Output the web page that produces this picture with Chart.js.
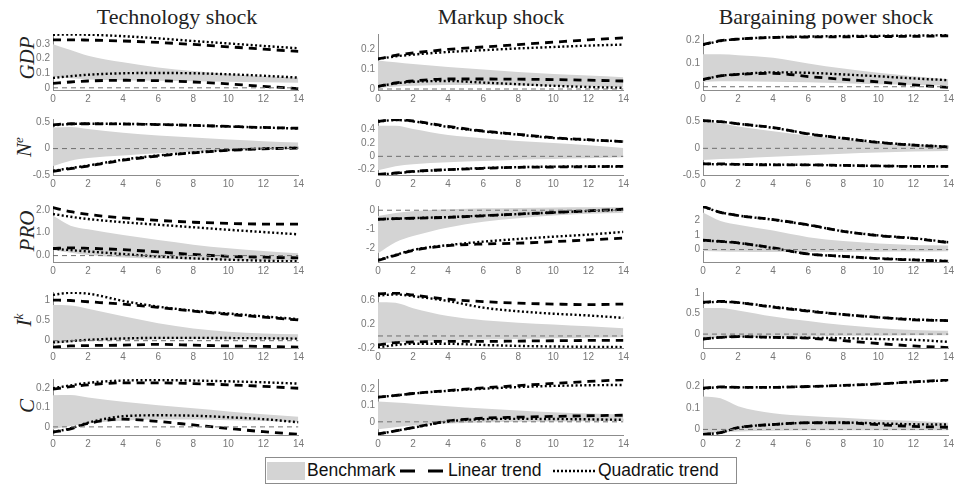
<!DOCTYPE html>
<html>
<head>
<meta charset="utf-8">
<script src="https://cdn.jsdelivr.net/npm/chart.js@4.4.1/dist/chart.umd.min.js"></script>
<style>
  html, body { margin: 0; padding: 0; background: #fff; width: 954px; height: 485px; overflow: hidden; }
  body { position: relative; }
  canvas { position: absolute; }
  .title { position: absolute; top: 4px; line-height: 25px; font-family: 'Liberation Serif', 'Times New Roman', serif; font-size: 22px; color: #222; white-space: nowrap; transform: translateX(-50%); }
  .ylab { position: absolute; font-family: 'Liberation Serif', 'Times New Roman', serif; font-style: italic; font-size: 21px; line-height: 21px; color: #222; white-space: nowrap; transform: translate(-50%, -50%) rotate(-90deg); }
  .ylab sup { font-size: 13px; line-height: 0; }
  #legend { position: absolute; left: 265px; top: 457px; width: 470px; height: 25px; border: 1px solid #8c8c8c; background: #fff; font-family: 'Liberation Sans', Arial, sans-serif; font-size: 17.5px; color: #111; }
  #legend span, #legend svg, #legend div { position: absolute; }
  #legend span { top: 2px; line-height: 21px; white-space: nowrap; }
</style>
</head>
<body>

<div class="title" style="left:177px">Technology shock</div>
<div class="title" style="left:501px">Markup shock</div>
<div class="title" style="left:826px">Bargaining power shock</div>

<div class="ylab" style="left:27px; top:58px">GDP</div>
<div class="ylab" style="left:24px; top:147px">N<sup>e</sup></div>
<div class="ylab" style="left:27px; top:231px">PRO</div>
<div class="ylab" style="left:24px; top:320px">I<sup>k</sup></div>
<div class="ylab" style="left:27px; top:406px">C</div>

<div id="legend">
  <div style="left:1px; top:4px; width:38px; height:18px; background:#d4d4d4"></div>
  <span style="left:41px">Benchmark</span>
  <svg style="left:132px; top:7px" width="48" height="12"><line x1="2" y1="6" x2="45" y2="6" stroke="#000" stroke-width="2.8" stroke-dasharray="15 13"/></svg>
  <span style="left:182px">Linear trend</span>
  <svg style="left:286px; top:7px" width="46" height="12"><line x1="1" y1="6" x2="45" y2="6" stroke="#000" stroke-width="2.3" stroke-dasharray="2 2"/></svg>
  <span style="left:332px">Quadratic trend</span>
</div>

<script>
const steps = [0, 1, 2, 4, 6, 8, 10, 12, 14];

// GDP, technology shock
const gdpTechBandHi = [0.30, 0.26, 0.22, 0.175, 0.14, 0.115, 0.095, 0.08, 0.07];
const gdpTechBandLo = [0.075, 0.065, 0.058, 0.052, 0.048, 0.045, 0.042, 0.038, 0.035];
const gdpTechLinHi = [0.33, 0.33, 0.328, 0.322, 0.312, 0.298, 0.282, 0.266, 0.25];
const gdpTechLinLo = [0.03, 0.04, 0.047, 0.052, 0.049, 0.04, 0.027, 0.01, -0.005];
const gdpTechQuadHi = [0.365, 0.366, 0.365, 0.355, 0.34, 0.322, 0.305, 0.288, 0.272];
const gdpTechQuadLo = [0.068, 0.08, 0.09, 0.1, 0.102, 0.1, 0.093, 0.083, 0.07];
const gdpTechRange = [-0.015, 0.37];
const gdpTechTicks = ['0', '0.1', '0.2', '0.3'];

// N^e, technology shock
const neTechBandHi = [0.40, 0.41, 0.37, 0.30, 0.25, 0.21, 0.17, 0.14, 0.115];
const neTechBandLo = [-0.33, -0.23, -0.18, -0.13, -0.09, -0.06, -0.04, -0.02, -0.01];
const neTechLinHi = [0.45, 0.47, 0.47, 0.465, 0.455, 0.44, 0.42, 0.40, 0.385];
const neTechLinLo = [-0.43, -0.38, -0.33, -0.22, -0.14, -0.08, -0.035, -0.005, 0.01];
const neTechQuadHi = [0.44, 0.465, 0.47, 0.468, 0.458, 0.44, 0.418, 0.398, 0.38];
const neTechQuadLo = [-0.42, -0.37, -0.32, -0.21, -0.13, -0.075, -0.03, 0.0, 0.015];
const neTechRange = [-0.5, 0.56];
const neTechTicks = ['-0.5', '0', '0.5'];

// PRO, technology shock
const proTechBandHi = [1.74, 1.31, 1.15, 0.9, 0.68, 0.48, 0.32, 0.2, 0.1];
const proTechBandLo = [0.25, 0.12, 0.03, -0.08, -0.14, -0.18, -0.2, -0.21, -0.21];
const proTechLinHi = [2.1, 1.92, 1.8, 1.65, 1.54, 1.46, 1.41, 1.38, 1.38];
const proTechLinLo = [0.31, 0.34, 0.32, 0.26, 0.16, 0.05, -0.03, -0.07, -0.1];
const proTechQuadHi = [1.82, 1.7, 1.6, 1.46, 1.35, 1.24, 1.13, 1.03, 0.93];
const proTechQuadLo = [0.3, 0.24, 0.18, 0.07, -0.04, -0.12, -0.18, -0.22, -0.25];
const proTechRange = [-0.28, 2.17];
const proTechTicks = ['0.0', '1.0', '2.0'];

// I^k, technology shock
const ikTechBandHi = [0.88, 0.87, 0.79, 0.6, 0.43, 0.3, 0.22, 0.18, 0.16];
const ikTechBandLo = [-0.08, -0.04, -0.01, 0.02, 0.03, 0.035, 0.035, 0.035, 0.03];
const ikTechLinHi = [1.0, 0.99, 0.96, 0.9, 0.82, 0.73, 0.65, 0.58, 0.51];
const ikTechLinLo = [-0.16, -0.13, -0.12, -0.11, -0.09, -0.11, -0.13, -0.14, -0.16];
const ikTechQuadHi = [1.13, 1.18, 1.16, 0.98, 0.84, 0.74, 0.67, 0.6, 0.53];
const ikTechQuadLo = [-0.04, -0.01, 0.02, 0.055, 0.07, 0.07, 0.065, 0.06, 0.05];
const ikTechRange = [-0.18, 1.2];
const ikTechTicks = ['0', '0.5', '1'];

// C, technology shock
const cTechBandHi = [0.164, 0.165, 0.152, 0.13, 0.112, 0.096, 0.08, 0.065, 0.052];
const cTechBandLo = [-0.012, 0.005, 0.018, 0.032, 0.038, 0.038, 0.035, 0.03, 0.024];
const cTechLinHi = [0.195, 0.208, 0.218, 0.228, 0.228, 0.224, 0.218, 0.21, 0.2];
const cTechLinLo = [-0.028, -0.01, 0.018, 0.04, 0.028, 0.01, -0.008, -0.025, -0.038];
const cTechQuadHi = [0.2, 0.215, 0.228, 0.24, 0.242, 0.24, 0.236, 0.231, 0.224];
const cTechQuadLo = [-0.026, -0.008, 0.022, 0.055, 0.06, 0.058, 0.05, 0.04, 0.024];
const cTechRange = [-0.042, 0.248];
const cTechTicks = ['0', '0.1', '0.2'];

// GDP, markup shock
const gdpMarkupBandHi = [0.143, 0.134, 0.125, 0.11, 0.097, 0.085, 0.075, 0.067, 0.059];
const gdpMarkupBandLo = [0.005, 0.012, 0.016, 0.02, 0.02, 0.018, 0.015, 0.012, 0.009];
const gdpMarkupLinHi = [0.15, 0.168, 0.18, 0.198, 0.21, 0.222, 0.234, 0.246, 0.256];
const gdpMarkupLinLo = [0.013, 0.03, 0.04, 0.05, 0.05, 0.049, 0.047, 0.044, 0.04];
const gdpMarkupQuadHi = [0.15, 0.163, 0.172, 0.185, 0.194, 0.203, 0.21, 0.217, 0.222];
const gdpMarkupQuadLo = [0.013, 0.028, 0.036, 0.04, 0.032, 0.024, 0.016, 0.01, 0.006];
const gdpMarkupRange = [-0.005, 0.275];
const gdpMarkupTicks = ['0', '0.1', '0.2'];

// N^e, markup shock
const neMarkupBandHi = [0.46, 0.46, 0.41, 0.32, 0.27, 0.23, 0.2, 0.165, 0.125];
const neMarkupBandLo = [-0.21, -0.15, -0.12, -0.09, -0.07, -0.05, -0.04, -0.03, -0.015];
const neMarkupLinHi = [0.525, 0.55, 0.53, 0.45, 0.38, 0.33, 0.28, 0.25, 0.22];
const neMarkupLinLo = [-0.27, -0.25, -0.225, -0.2, -0.18, -0.165, -0.16, -0.155, -0.15];
const neMarkupQuadHi = [0.52, 0.545, 0.525, 0.44, 0.375, 0.325, 0.275, 0.245, 0.225];
const neMarkupQuadLo = [-0.275, -0.255, -0.23, -0.2, -0.175, -0.162, -0.155, -0.15, -0.155];
const neMarkupRange = [-0.28, 0.56];
const neMarkupTicks = ['-0.2', '0', '0.2', '0.4'];

// PRO, markup shock
const proMarkupBandHi = [-0.3, -0.15, -0.05, 0.05, 0.1, 0.12, 0.14, 0.15, 0.15];
const proMarkupBandLo = [-2.25, -1.67, -1.35, -0.9, -0.6, -0.42, -0.28, -0.18, -0.15];
const proMarkupLinHi = [-0.47, -0.44, -0.42, -0.37, -0.29, -0.2, -0.12, -0.03, 0.05];
const proMarkupLinLo = [-2.62, -2.35, -2.1, -1.85, -1.76, -1.72, -1.64, -1.55, -1.45];
const proMarkupQuadHi = [-0.47, -0.44, -0.41, -0.36, -0.28, -0.2, -0.12, -0.04, 0.03];
const proMarkupQuadLo = [-2.6, -2.33, -2.07, -1.82, -1.64, -1.5, -1.38, -1.27, -1.13];
const proMarkupRange = [-2.7, 0.22];
const proMarkupTicks = ['-2', '-1', '0'];

// I^k, markup shock
const ikMarkupBandHi = [0.56, 0.55, 0.46, 0.33, 0.26, 0.22, 0.19, 0.16, 0.13];
const ikMarkupBandLo = [-0.13, -0.11, -0.09, -0.07, -0.06, -0.05, -0.04, -0.03, -0.02];
const ikMarkupLinHi = [0.7, 0.71, 0.68, 0.61, 0.57, 0.545, 0.53, 0.52, 0.53];
const ikMarkupLinLo = [-0.15, -0.11, -0.1, -0.09, -0.09, -0.085, -0.08, -0.075, -0.075];
const ikMarkupQuadHi = [0.67, 0.69, 0.66, 0.58, 0.47, 0.41, 0.37, 0.34, 0.3];
const ikMarkupQuadLo = [-0.19, -0.15, -0.13, -0.13, -0.15, -0.165, -0.175, -0.18, -0.185];
const ikMarkupRange = [-0.2, 0.73];
const ikMarkupTicks = ['-0.2', '0', '0.2', '0.4', '0.6'];

// C, markup shock
const cMarkupBandHi = [0.124, 0.117, 0.11, 0.095, 0.081, 0.069, 0.058, 0.05, 0.044];
const cMarkupBandLo = [-0.045, -0.033, -0.022, -0.01, -0.004, 0.0, 0.002, 0.004, 0.005];
const cMarkupLinHi = [0.15, 0.16, 0.172, 0.19, 0.206, 0.22, 0.233, 0.245, 0.255];
const cMarkupLinLo = [-0.074, -0.055, -0.035, 0.005, 0.022, 0.028, 0.033, 0.037, 0.04];
const cMarkupQuadHi = [0.15, 0.16, 0.172, 0.188, 0.201, 0.211, 0.218, 0.222, 0.224];
const cMarkupQuadLo = [-0.074, -0.055, -0.036, 0.002, 0.016, 0.018, 0.017, 0.015, 0.012];
const cMarkupRange = [-0.08, 0.26];
const cMarkupTicks = ['0', '0.1', '0.2'];

// GDP, bargaining power shock
const gdpBargBandHi = [0.14, 0.14, 0.136, 0.125, 0.1, 0.078, 0.06, 0.045, 0.032];
const gdpBargBandLo = [0.022, 0.024, 0.024, 0.022, 0.019, 0.015, 0.011, 0.008, 0.005];
const gdpBargLinHi = [0.182, 0.198, 0.205, 0.212, 0.214, 0.215, 0.216, 0.217, 0.219];
const gdpBargLinLo = [0.031, 0.047, 0.053, 0.058, 0.044, 0.032, 0.021, 0.008, -0.003];
const gdpBargQuadHi = [0.18, 0.197, 0.205, 0.213, 0.216, 0.218, 0.219, 0.22, 0.222];
const gdpBargQuadLo = [0.031, 0.047, 0.054, 0.062, 0.06, 0.053, 0.045, 0.036, 0.028];
const gdpBargRange = [-0.014, 0.227];
const gdpBargTicks = ['0', '0.1', '0.2'];

// N^e, bargaining power shock
const neBargBandHi = [0.5, 0.47, 0.41, 0.32, 0.235, 0.17, 0.1, 0.07, 0.055];
const neBargBandLo = [-0.22, -0.2, -0.19, -0.16, -0.13, -0.1, -0.08, -0.06, -0.05];
const neBargLinHi = [0.52, 0.5, 0.46, 0.39, 0.27, 0.19, 0.11, 0.06, 0.025];
const neBargLinLo = [-0.29, -0.29, -0.3, -0.31, -0.31, -0.32, -0.33, -0.34, -0.34];
const neBargQuadHi = [0.515, 0.5, 0.46, 0.385, 0.275, 0.19, 0.115, 0.065, 0.03];
const neBargQuadLo = [-0.29, -0.3, -0.3, -0.305, -0.31, -0.32, -0.33, -0.335, -0.34];
const neBargRange = [-0.5, 0.55];
const neBargTicks = ['-0.5', '0', '0.5'];

// PRO, bargaining power shock
const proBargBandHi = [2.53, 1.95, 1.7, 1.3, 0.85, 0.58, 0.42, 0.32, 0.28];
const proBargBandLo = [-0.1, -0.13, -0.15, -0.17, -0.17, -0.16, -0.15, -0.14, -0.12];
const proBargLinHi = [2.95, 2.55, 2.33, 2.05, 1.7, 1.25, 0.95, 0.76, 0.48];
const proBargLinLo = [0.64, 0.56, 0.46, 0.11, -0.3, -0.46, -0.62, -0.71, -0.8];
const proBargQuadHi = [2.93, 2.55, 2.33, 2.04, 1.68, 1.25, 0.97, 0.78, 0.5];
const proBargQuadLo = [0.63, 0.55, 0.45, 0.1, -0.3, -0.47, -0.6, -0.7, -0.78];
const proBargRange = [-0.85, 2.98];
const proBargTicks = ['0', '1', '2'];

// I^k, bargaining power shock
const ikBargBandHi = [0.64, 0.64, 0.58, 0.43, 0.32, 0.22, 0.15, 0.1, 0.08];
const ikBargBandLo = [-0.1, -0.09, -0.08, -0.06, -0.05, -0.04, -0.04, -0.03, -0.03];
const ikBargLinHi = [0.78, 0.8, 0.77, 0.66, 0.56, 0.48, 0.41, 0.35, 0.33];
const ikBargLinLo = [-0.12, -0.08, -0.06, -0.08, -0.1, -0.16, -0.23, -0.29, -0.33];
const ikBargQuadHi = [0.77, 0.79, 0.77, 0.67, 0.57, 0.48, 0.41, 0.36, 0.33];
const ikBargQuadLo = [-0.12, -0.08, -0.06, -0.08, -0.09, -0.1, -0.12, -0.14, -0.19];
const ikBargRange = [-0.34, 1.03];
const ikBargTicks = ['0', '0.5', '1'];

// C, bargaining power shock
const cBargBandHi = [0.154, 0.145, 0.108, 0.075, 0.062, 0.054, 0.045, 0.04, 0.031];
const cBargBandLo = [-0.018, -0.014, -0.01, -0.006, -0.004, -0.004, -0.004, -0.004, -0.004];
const cBargLinHi = [0.192, 0.198, 0.196, 0.196, 0.2, 0.205, 0.212, 0.222, 0.231];
const cBargLinLo = [-0.023, -0.015, 0.008, 0.023, 0.031, 0.031, 0.022, 0.014, 0.01];
const cBargQuadHi = [0.19, 0.197, 0.196, 0.197, 0.2, 0.205, 0.212, 0.221, 0.229];
const cBargQuadLo = [-0.023, -0.015, 0.008, 0.023, 0.031, 0.032, 0.028, 0.024, 0.023];
const cBargRange = [-0.026, 0.235];
const cBargTicks = ['0', '0.1', '0.2'];

// layout of the 5x3 grid (plot areas in px)
const colLeft = [53, 378, 703];
const rowTop = [33, 118, 205, 291, 378];
const plotW = 246, plotH = 57;
const axisW = 32, axisH = 16, padTop = 8, padRight = 8;

const panels = [
    [0, 0, gdpTechBandHi, gdpTechBandLo, gdpTechLinHi, gdpTechLinLo, gdpTechQuadHi, gdpTechQuadLo, gdpTechRange, gdpTechTicks],
    [1, 0, neTechBandHi, neTechBandLo, neTechLinHi, neTechLinLo, neTechQuadHi, neTechQuadLo, neTechRange, neTechTicks],
    [2, 0, proTechBandHi, proTechBandLo, proTechLinHi, proTechLinLo, proTechQuadHi, proTechQuadLo, proTechRange, proTechTicks],
    [3, 0, ikTechBandHi, ikTechBandLo, ikTechLinHi, ikTechLinLo, ikTechQuadHi, ikTechQuadLo, ikTechRange, ikTechTicks],
    [4, 0, cTechBandHi, cTechBandLo, cTechLinHi, cTechLinLo, cTechQuadHi, cTechQuadLo, cTechRange, cTechTicks],
    [0, 1, gdpMarkupBandHi, gdpMarkupBandLo, gdpMarkupLinHi, gdpMarkupLinLo, gdpMarkupQuadHi, gdpMarkupQuadLo, gdpMarkupRange, gdpMarkupTicks],
    [1, 1, neMarkupBandHi, neMarkupBandLo, neMarkupLinHi, neMarkupLinLo, neMarkupQuadHi, neMarkupQuadLo, neMarkupRange, neMarkupTicks],
    [2, 1, proMarkupBandHi, proMarkupBandLo, proMarkupLinHi, proMarkupLinLo, proMarkupQuadHi, proMarkupQuadLo, proMarkupRange, proMarkupTicks],
    [3, 1, ikMarkupBandHi, ikMarkupBandLo, ikMarkupLinHi, ikMarkupLinLo, ikMarkupQuadHi, ikMarkupQuadLo, ikMarkupRange, ikMarkupTicks],
    [4, 1, cMarkupBandHi, cMarkupBandLo, cMarkupLinHi, cMarkupLinLo, cMarkupQuadHi, cMarkupQuadLo, cMarkupRange, cMarkupTicks],
    [0, 2, gdpBargBandHi, gdpBargBandLo, gdpBargLinHi, gdpBargLinLo, gdpBargQuadHi, gdpBargQuadLo, gdpBargRange, gdpBargTicks],
    [1, 2, neBargBandHi, neBargBandLo, neBargLinHi, neBargLinLo, neBargQuadHi, neBargQuadLo, neBargRange, neBargTicks],
    [2, 2, proBargBandHi, proBargBandLo, proBargLinHi, proBargLinLo, proBargQuadHi, proBargQuadLo, proBargRange, proBargTicks],
    [3, 2, ikBargBandHi, ikBargBandLo, ikBargLinHi, ikBargLinLo, ikBargQuadHi, ikBargQuadLo, ikBargRange, ikBargTicks],
    [4, 2, cBargBandHi, cBargBandLo, cBargLinHi, cBargLinLo, cBargQuadHi, cBargQuadLo, cBargRange, cBargTicks]
];

const pts = arr => steps.map((x, i) => ({ x: x, y: arr[i] }));
const tickFont = { family: "'Liberation Sans', Arial, sans-serif", size: 10 };
const axisGrey = '#8c8c8c';

function makePanel([row, col, bandHi, bandLo, linHi, linLo, quadHi, quadLo, range, ticks]) {
    const canvas = document.createElement('canvas');
    canvas.width = axisW + plotW + padRight;
    canvas.height = padTop + plotH + axisH;
    canvas.style.left = (colLeft[col] - axisW) + 'px';
    canvas.style.top = (rowTop[row] - padTop) + 'px';
    document.body.appendChild(canvas);

    const dashed = { borderColor: '#000', borderWidth: 2.8, borderDash: [8, 6], fill: false };
    const dotted = { borderColor: '#000', borderWidth: 2.4, borderDash: [2, 2.4], fill: false };
    const tickVals = ticks.map(Number);

    new Chart(canvas, {
        type: 'line',
        data: {
            datasets: [
                { data: pts(bandLo), borderColor: 'rgba(0,0,0,0)', borderWidth: 0, fill: false },
                { data: pts(bandHi), borderColor: 'rgba(0,0,0,0)', borderWidth: 0, fill: '-1', backgroundColor: '#d4d4d4' },
                { data: steps.map(x => ({ x: x, y: 0 })), borderColor: '#6e6e6e', borderWidth: 1, borderDash: [5, 4], fill: false },
                { data: pts(linHi), ...dashed },
                { data: pts(linLo), ...dashed },
                { data: pts(quadHi), ...dotted },
                { data: pts(quadLo), ...dotted }
            ]
        },
        options: {
            responsive: false,
            animation: false,
            events: [],
            layout: { padding: { top: padTop, right: padRight, left: 0, bottom: 0 } },
            plugins: {
                legend: { display: false },
                tooltip: { enabled: false },
                filler: { drawTime: 'beforeDatasetsDraw' }
            },
            elements: {
                point: { radius: 0 },
                line: { cubicInterpolationMode: 'monotone', borderCapStyle: 'butt' }
            },
            scales: {
                x: {
                    type: 'linear', min: 0, max: 14,
                    afterFit: s => { s.height = axisH; },
                    ticks: { stepSize: 2, autoSkip: false, maxRotation: 0, color: '#777', font: tickFont, padding: 3 },
                    grid: { display: true, drawOnChartArea: false, drawTicks: false },
                    border: { color: axisGrey, width: 1 }
                },
                y: {
                    min: range[0], max: range[1],
                    afterFit: s => { s.width = axisW; },
                    afterBuildTicks: s => { s.ticks = tickVals.map(v => ({ value: v })); },
                    ticks: { callback: (v, i) => ticks[i], color: '#777', font: tickFont, padding: 3 },
                    grid: { display: true, drawOnChartArea: false, drawTicks: false },
                    border: { color: axisGrey, width: 1 }
                }
            }
        }
    });
}

panels.forEach(makePanel);
</script>
</body>
</html>
